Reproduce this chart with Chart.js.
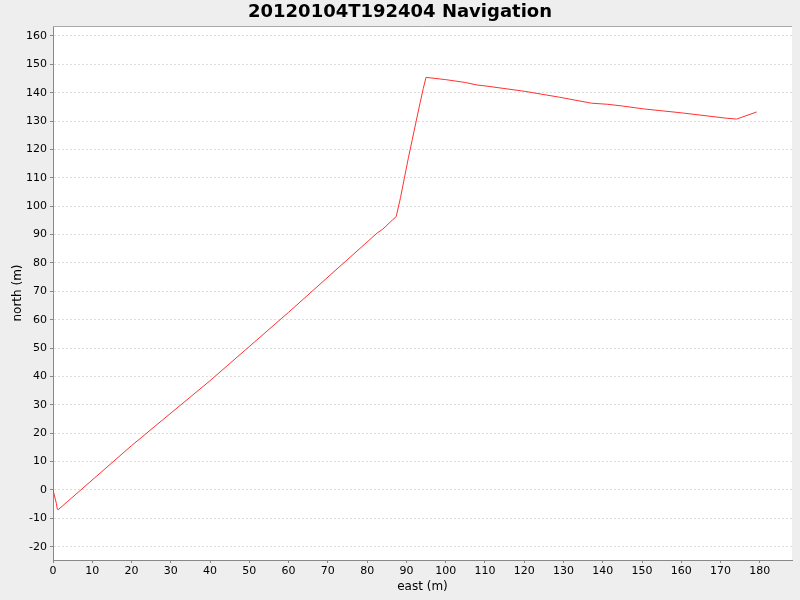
<!DOCTYPE html>
<html>
<head>
<meta charset="utf-8">
<script src="https://cdn.jsdelivr.net/npm/chart.js@4"></script>
<style>
  html, body { margin: 0; padding: 0; background: #eeeeee; }
  #wrap { width: 800px; height: 600px; }
</style>
</head>
<body>
<div id="wrap"><canvas id="navChart" width="800" height="600"></canvas></div>
<script>
const chartTitle = '20120104T192404 Navigation';
const eastValues = [0, 0.85, 1.1, 1.3, 20, 40, 60, 82.6,
  84.0, 86.5, 87.4,
  88.5, 89.5, 90.5, 91.5, 92.5, 93.5, 94.3, 95.0,
  100, 105, 108, 110, 120, 129, 137.1, 141.3, 145, 150.3, 160, 171.5, 174.1, 179.2];
const northValues = [0, -4.7, -6.8, -7, 15.6, 38.5, 62.6, 90.6,
  91.9, 95.2, 96.3,
  103, 110, 117, 123.5, 130, 136.5, 141.5, 145.4,
  144.6, 143.6, 142.7, 142.4, 140.5, 138.4, 136.3, 135.9, 135.3, 134.3, 132.9, 131.0, 130.7, 133.2];
const xRange = [0, 188.2];
const yRange = [-24.7, 163.5];
const tickStep = 10;

const points = eastValues.map((e, i) => ({ x: e, y: northValues[i] }));

// replace generated ticks with plain multiples of the step inside the range
const stepTicks = (scale) => {
  const ticks = [];
  for (let v = Math.ceil(scale.min / tickStep) * tickStep; v <= scale.max; v += tickStep) {
    ticks.push({ value: v });
  }
  scale.ticks = ticks;
};

const backdrop = {
  id: 'backdrop',
  beforeDraw(chart) {
    const { ctx, chartArea: a } = chart;
    ctx.save();
    ctx.fillStyle = '#eeeeee';
    ctx.fillRect(0, 0, chart.width, chart.height);
    ctx.fillStyle = '#ffffff';
    ctx.fillRect(a.left, a.top, a.right - a.left, a.bottom - a.top);
    ctx.restore();
  },
  afterDraw(chart) {
    const { ctx, chartArea: a } = chart;
    ctx.save();
    ctx.strokeStyle = '#aaaaaa';
    ctx.lineWidth = 1;
    ctx.beginPath();
    ctx.moveTo(a.left, a.top + 0.5);
    ctx.lineTo(a.right, a.top + 0.5);
    ctx.stroke();
    ctx.fillStyle = '#000000';
    ctx.font = 'bold 18px "DejaVu Sans"';
    ctx.textAlign = 'center';
    ctx.textBaseline = 'middle';
    ctx.fillText(chartTitle, chart.width / 2, 12);
    ctx.restore();
  }
};

new Chart(document.getElementById('navChart').getContext('2d'), {
  type: 'scatter',
  data: {
    datasets: [{
      data: points,
      showLine: true,
      borderColor: 'rgb(255, 50, 50)',
      borderWidth: 1,
      pointRadius: 0,
      tension: 0
    }]
  },
  options: {
    responsive: false,
    devicePixelRatio: 1,
    animation: false,
    layout: { padding: { top: 26, right: 8, left: 0, bottom: 0 } },
    plugins: { legend: { display: false }, tooltip: { enabled: false } },
    scales: {
      x: {
        type: 'linear',
        min: xRange[0],
        max: xRange[1],
        afterBuildTicks: stepTicks,
        afterFit(scale) { scale.height = 40; },
        ticks: { color: '#000', padding: 2, maxRotation: 0, autoSkip: false,
          font: { family: 'DejaVu Sans', size: 11 } },
        grid: { drawOnChartArea: false, tickLength: 3, tickColor: '#888888' },
        border: { color: '#888888', width: 1 },
        title: { display: true, text: 'east (m)', color: '#000',
          font: { family: 'DejaVu Sans', size: 12 }, padding: { top: 0, bottom: 6 } }
      },
      y: {
        type: 'linear',
        min: yRange[0],
        max: yRange[1],
        afterBuildTicks: stepTicks,
        afterFit(scale) { scale.width = 53; },
        ticks: { color: '#000', padding: 3, autoSkip: false,
          font: { family: 'DejaVu Sans', size: 11 } },
        grid: { color: '#dddddd', tickLength: 3, tickColor: '#888888', tickBorderDash: [] },
        border: { color: '#888888', width: 1, dash: [2, 2] },
        title: { display: true, text: 'north (m)', color: '#000',
          font: { family: 'DejaVu Sans', size: 12 }, padding: { top: 11, bottom: 0 } }
      }
    }
  },
  plugins: [backdrop]
});
</script>
</body>
</html>
